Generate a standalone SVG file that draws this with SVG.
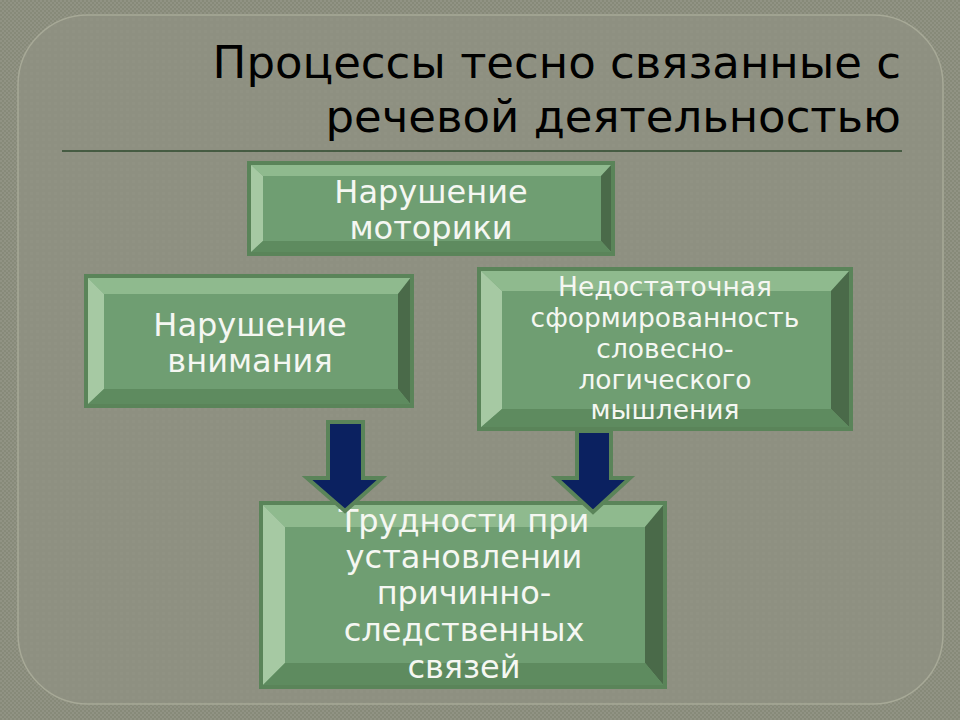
<svg xmlns="http://www.w3.org/2000/svg" width="960" height="720" viewBox="0 0 960 720">
  <defs>
    <pattern id="bgpat" width="4" height="4" patternUnits="userSpaceOnUse">
      <rect width="4" height="4" fill="#878a79"/>
      <rect x="0" y="0" width="2" height="2" fill="#919384"/>
      <rect x="2" y="2" width="2" height="2" fill="#919384"/>
    </pattern>
    <pattern id="panelpat" width="6" height="6" patternUnits="userSpaceOnUse">
      <rect width="6" height="6" fill="#8e9081"/>
      <rect x="0" y="0" width="3" height="3" fill="#909283"/>
    </pattern>
  </defs>
  <style>
    .title { font-family: "DejaVu Sans", "Noto Sans", sans-serif; font-size: 45px; fill: #000000; }
    .lbl { font-family: "DejaVu Sans", "Noto Sans", sans-serif; fill: #f5f7f2; text-anchor: middle; }
    .face { fill: #6f9e72; }
    .btop { fill: #8fba8e; }
    .bleft { fill: #a6c9a3; }
    .bright { fill: #4a6a49; }
    .bbot { fill: #5e8b5f; }
    .frame { fill: none; stroke: #5a8459; stroke-width: 4; }
    .arrow { fill: #0b2160; stroke: #5a8459; stroke-width: 4; stroke-linejoin: miter; }
  </style>

  <rect x="0" y="0" width="960" height="720" fill="url(#bgpat)"/>
  <rect x="18" y="15" width="925" height="689" rx="70" ry="70" fill="url(#panelpat)" stroke="#a7a997" stroke-width="1.5"/>

  <g id="title">
    <text class="title" x="901" y="78" text-anchor="end">Процессы тесно связанные с</text>
    <text class="title" x="901" y="132" text-anchor="end">речевой деятельностью</text>
    <line x1="62" y1="151" x2="902" y2="151" stroke="#2e4a2e" stroke-width="1.5"/>
  </g>

  <g id="node-motor">
    <rect class="face" x="249" y="163" width="364" height="91"/>
    <polygon class="btop" points="249,163 613,163 601,176 263,176"/>
    <polygon class="bleft" points="249,163 263,176 263,241 249,254"/>
    <polygon class="bright" points="613,163 613,254 601,241 601,176"/>
    <polygon class="bbot" points="249,254 263,241 601,241 613,254"/>
    <rect class="frame" x="249" y="163" width="364" height="91"/>
    <text class="lbl" x="431" y="203" font-size="32">Нарушение</text>
    <text class="lbl" x="431" y="239" font-size="32">моторики</text>
  </g>

  <g id="node-attention">
    <rect class="face" x="86" y="276" width="326" height="130"/>
    <polygon class="btop" points="86,276 412,276 398,294 104,294"/>
    <polygon class="bleft" points="86,276 104,294 104,389 86,406"/>
    <polygon class="bright" points="412,276 412,406 398,389 398,294"/>
    <polygon class="bbot" points="86,406 104,389 398,389 412,406"/>
    <rect class="frame" x="86" y="276" width="326" height="130"/>
    <text class="lbl" x="250" y="336" font-size="32">Нарушение</text>
    <text class="lbl" x="250" y="372" font-size="32">внимания</text>
  </g>

  <g id="node-thinking">
    <rect class="face" x="479" y="269" width="372" height="160"/>
    <polygon class="btop" points="479,269 851,269 831,291 502,291"/>
    <polygon class="bleft" points="479,269 502,291 502,409 479,429"/>
    <polygon class="bright" points="851,269 851,429 831,409 831,291"/>
    <polygon class="bbot" points="479,429 502,409 831,409 851,429"/>
    <rect class="frame" x="479" y="269" width="372" height="160"/>
    <text class="lbl" x="665" y="296" font-size="26.5">Недостаточная</text>
    <text class="lbl" x="665" y="327" font-size="26.5">сформированность</text>
    <text class="lbl" x="665" y="358" font-size="26.5">словесно-</text>
    <text class="lbl" x="665" y="389" font-size="26.5">логического</text>
    <text class="lbl" x="665" y="419" font-size="26.5">мышления</text>
  </g>

  <g id="node-result">
    <rect class="face" x="261" y="503" width="404" height="184"/>
    <polygon class="btop" points="261,503 665,503 645,527 285,527"/>
    <polygon class="bleft" points="261,503 285,527 285,663 261,687"/>
    <polygon class="bright" points="665,503 665,687 645,663 645,527"/>
    <polygon class="bbot" points="261,687 285,663 645,663 665,687"/>
    <rect class="frame" x="261" y="503" width="404" height="184"/>
    <text class="lbl" x="464" y="532" font-size="32">Трудности при</text>
    <text class="lbl" x="464" y="568" font-size="32">установлении</text>
    <text class="lbl" x="464" y="604" font-size="32">причинно-</text>
    <text class="lbl" x="464" y="641" font-size="32">следственных</text>
    <text class="lbl" x="464" y="678" font-size="32">связей</text>
  </g>

  <g id="connectors">
    <polygon class="arrow" points="328,422 363,422 363,478 382,478 345,511 307,478 328,478"/>
    <polygon class="arrow" points="577,431 611,431 611,478 630,478 593,512 556,478 577,478"/>
  </g>
</svg>
